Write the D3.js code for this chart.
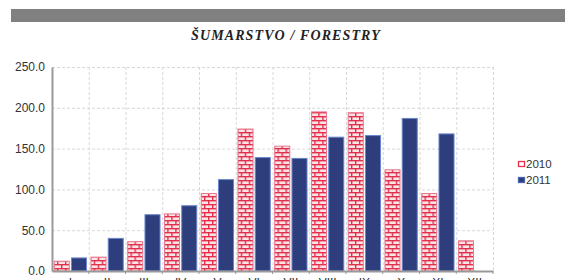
<!DOCTYPE html>
<html>
<head>
<meta charset="utf-8">
<script src="https://cdn.jsdelivr.net/npm/d3@7"></script>
<style>
  body { margin: 0; background: #fff; }
  svg { display: block; font-family: "Liberation Sans", Arial, sans-serif; }
</style>
</head>
<body>
<div class="chart"></div>
<script>
// months (roman numerals) and values per year
var months = ["I", "II", "III", "IV", "V", "VI", "VII", "VIII", "IX", "X", "XI", "XII"];
var values2010 = [12, 17, 36, 70, 95, 174, 153, 195, 194, 124, 95, 37];
var values2011 = [16, 40, 69, 80, 112, 139, 138, 164, 166, 187, 168, null];
var seriesNames = ["2010", "2011"];
var yTicks = [0, 50, 100, 150, 200, 250];

var w = 565, h = 280;
var margin = {left: 52, right: 72, top: 67, bottom: 9};

var svg = d3.select(".chart").append("svg")
    .attr("width", w)
    .attr("height", h);

// brick pattern for 2010
var defs = svg.append("defs");
var pat = defs.append("pattern")
    .attr("id", "brick")
    .attr("patternUnits", "userSpaceOnUse")
    .attr("width", 8)
    .attr("height", 8);
pat.append("rect").attr("width", 8).attr("height", 8).attr("fill", "#fbe4e8");
pat.append("rect").attr("y", 0).attr("width", 8).attr("height", 1.4).attr("fill", "#e0304c");
pat.append("rect").attr("y", 4).attr("width", 8).attr("height", 1.4).attr("fill", "#e0304c");
pat.append("rect").attr("x", 1).attr("y", 0).attr("width", 1.4).attr("height", 4).attr("fill", "#e0304c");
pat.append("rect").attr("x", 5).attr("y", 4).attr("width", 1.4).attr("height", 4).attr("fill", "#e0304c");

// top grey band and title
svg.append("rect")
    .attr("x", 11).attr("y", 9)
    .attr("width", w - 11).attr("height", 13)
    .attr("fill", "#808080");

svg.append("text")
    .attr("x", 286).attr("y", 40)
    .attr("text-anchor", "middle")
    .style("font-family", "'Liberation Serif', 'Times New Roman', serif")
    .style("font-weight", "bold")
    .style("font-style", "italic")
    .style("font-size", "14px")
    .style("letter-spacing", "1.1px")
    .attr("fill", "#222")
    .text("ŠUMARSTVO / FORESTRY");

var x = d3.scaleBand()
    .domain(months)
    .range([margin.left, 493]);

var x1 = d3.scaleBand()
    .domain(seriesNames)
    .range([0, x.bandwidth()])
    .paddingInner(0.07)
    .paddingOuter(0.1);

var y = d3.scaleLinear()
    .domain([0, 250])
    .range([271, margin.top]);

// gridlines
svg.append("g").selectAll("line.h")
    .data(yTicks.slice(1))
    .enter().append("line")
    .attr("x1", margin.left).attr("x2", 493)
    .attr("y1", function(d) { return y(d) + 0.5; })
    .attr("y2", function(d) { return y(d) + 0.5; })
    .attr("stroke", "#d8d8d8")
    .attr("stroke-dasharray", "3,2");

svg.append("g").selectAll("line.v")
    .data(months)
    .enter().append("line")
    .attr("x1", function(d) { return x(d) + x.bandwidth() + 0.5; })
    .attr("x2", function(d) { return x(d) + x.bandwidth() + 0.5; })
    .attr("y1", y(250)).attr("y2", y(0))
    .attr("stroke", "#d8d8d8")
    .attr("stroke-dasharray", "3,2");

// bars
var rows = months.map(function(m, i) {
    return {month: m, vals: [
        {s: "2010", v: values2010[i]},
        {s: "2011", v: values2011[i]}
    ]};
});

var groups = svg.append("g").selectAll("g")
    .data(rows)
    .enter().append("g")
    .attr("transform", function(d) { return "translate(" + x(d.month) + ",0)"; });

groups.selectAll("rect")
    .data(function(d) { return d.vals.filter(function(e) { return e.v != null; }); })
    .enter().append("rect")
    .attr("x", function(d) { return x1(d.s) + 0.5; })
    .attr("y", function(d) { return y(d.v); })
    .attr("width", x1.bandwidth() - 1)
    .attr("height", function(d) { return y(0) - y(d.v); })
    .attr("fill", function(d) { return d.s == "2010" ? "url(#brick)" : "#2e3e7c"; })
    .attr("stroke", function(d) { return d.s == "2010" ? "#e87a8e" : "#6a86cc"; })
    .attr("stroke-width", 1);

// axes
var yAxis = d3.axisLeft(y).tickValues(yTicks).tickSize(0).tickPadding(7)
    .tickFormat(d3.format(".1f"));
var gy = svg.append("g")
    .attr("transform", "translate(" + margin.left + ",0)")
    .call(yAxis);
gy.select(".domain").attr("stroke", "#999").attr("stroke-width", 2);
gy.selectAll("text").attr("fill", "#333").style("font-size", "12px");

var xAxis = d3.axisBottom(x).tickSize(0).tickPadding(7);
var gx = svg.append("g")
    .attr("transform", "translate(0," + y(0) + ")")
    .call(xAxis);
gx.select(".domain").attr("stroke", "#999").attr("stroke-width", 2);
gx.selectAll("text").attr("fill", "#333").style("font-size", "12px");
gx.selectAll(".tick").append("line")
    .attr("x1", x.bandwidth() / 2).attr("x2", x.bandwidth() / 2)
    .attr("y1", 0).attr("y2", 3)
    .attr("stroke", "#999");

// legend
var legend = svg.append("g").selectAll("g")
    .data(seriesNames)
    .enter().append("g")
    .attr("transform", function(d, i) { return "translate(518," + (165 + i * 16) + ")"; });
legend.append("rect")
    .attr("x", 0.5).attr("y", -3.5)
    .attr("width", 6).attr("height", 5)
    .attr("fill", function(d) { return d == "2010" ? "#fff" : "#2e3e7c"; })
    .attr("stroke", function(d) { return d == "2010" ? "#e0304c" : "#4a64b0"; })
    .attr("stroke-width", 1.3);
legend.append("text")
    .attr("x", 8).attr("y", 3)
    .attr("fill", "#333")
    .style("font-size", "11.5px")
    .text(function(d) { return d; });
</script>
</body>
</html>
